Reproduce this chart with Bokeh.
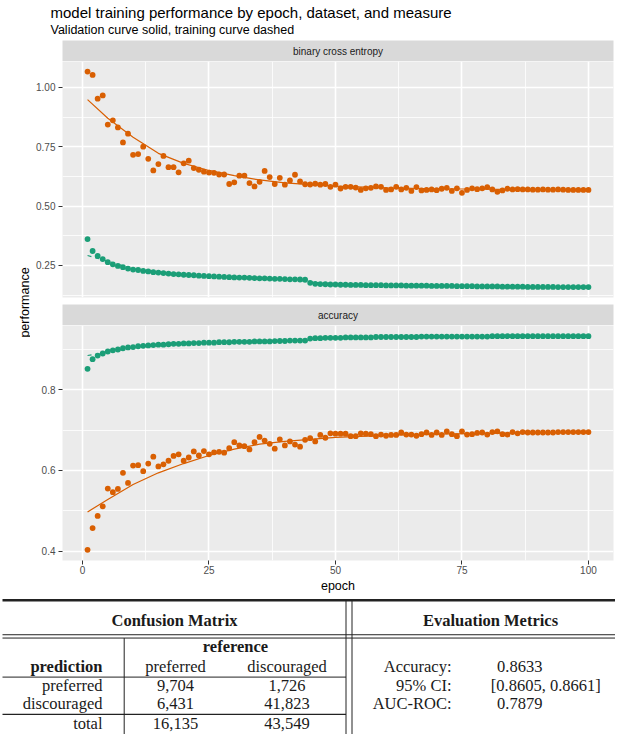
import math
from bokeh.plotting import figure
from bokeh.layouts import column, row
from bokeh.models import Range1d, FixedTicker, NumeralTickFormatter
from bokeh.embed import file_html
from bokeh.resources import INLINE
from bokeh.core.properties import value

# ---------------- data ----------------
epochs = list(range(1, 101))

val_loss = [1.066, 1.052, 0.952, 0.966, 0.843, 0.861, 0.831, 0.768, 0.805, 0.716,
            0.719, 0.750, 0.699, 0.650, 0.677, 0.711, 0.664, 0.664, 0.642, 0.680,
            0.691, 0.660, 0.653, 0.645, 0.641, 0.640, 0.633, 0.633, 0.593, 0.600,
            0.628, 0.628, 0.597, 0.583, 0.602, 0.648, 0.622, 0.593, 0.619, 0.590,
            0.608, 0.632, 0.604, 0.592, 0.591, 0.594, 0.590, 0.593, 0.581, 0.590,
            0.574, 0.581, 0.581, 0.578, 0.568, 0.575, 0.577, 0.583, 0.581, 0.568,
            0.570, 0.581, 0.570, 0.577, 0.564, 0.580, 0.566, 0.568, 0.570, 0.567,
            0.573, 0.577, 0.564, 0.575, 0.556, 0.568, 0.575, 0.571, 0.575, 0.580,
            0.570, 0.560, 0.566, 0.573, 0.570, 0.571, 0.570, 0.570, 0.569, 0.569,
            0.570, 0.569, 0.569, 0.570, 0.569, 0.568, 0.568, 0.568, 0.568, 0.568]

train_loss = [0.361, 0.311, 0.290, 0.277, 0.264, 0.255, 0.248, 0.243, 0.237, 0.233,
              0.231, 0.227, 0.225, 0.222, 0.220, 0.218, 0.216, 0.214, 0.213, 0.211,
              0.210, 0.209, 0.207, 0.206, 0.205, 0.204, 0.203, 0.202, 0.201, 0.200,
              0.199, 0.199, 0.198, 0.197, 0.196, 0.196, 0.195, 0.194, 0.194, 0.193,
              0.192, 0.192, 0.191, 0.190, 0.177, 0.173, 0.172, 0.171, 0.170, 0.170,
              0.169, 0.169, 0.168, 0.168, 0.168, 0.167, 0.167, 0.167, 0.167, 0.166,
              0.166, 0.166, 0.166, 0.165, 0.165, 0.165, 0.165, 0.165, 0.164, 0.164,
              0.164, 0.164, 0.164, 0.163, 0.163, 0.163, 0.163, 0.162, 0.162, 0.162,
              0.162, 0.162, 0.161, 0.161, 0.161, 0.161, 0.161, 0.160, 0.160, 0.160,
              0.160, 0.160, 0.160, 0.159, 0.159, 0.159, 0.159, 0.159, 0.159, 0.159]

val_acc = [0.403, 0.457, 0.487, 0.511, 0.555, 0.546, 0.554, 0.594, 0.569, 0.612,
           0.613, 0.598, 0.617, 0.634, 0.610, 0.615, 0.624, 0.636, 0.640, 0.624,
           0.632, 0.647, 0.637, 0.648, 0.640, 0.645, 0.646, 0.644, 0.655, 0.670,
           0.662, 0.660, 0.652, 0.670, 0.683, 0.674, 0.666, 0.654, 0.677, 0.662,
           0.672, 0.664, 0.659, 0.676, 0.680, 0.672, 0.688, 0.681, 0.692, 0.691,
           0.691, 0.691, 0.685, 0.685, 0.692, 0.691, 0.690, 0.685, 0.689, 0.686,
           0.688, 0.688, 0.694, 0.689, 0.689, 0.686, 0.690, 0.694, 0.688, 0.694,
           0.688, 0.697, 0.690, 0.685, 0.697, 0.689, 0.690, 0.693, 0.694, 0.689,
           0.695, 0.697, 0.690, 0.689, 0.695, 0.692, 0.695, 0.694, 0.694, 0.694,
           0.694, 0.694, 0.694, 0.695, 0.695, 0.695, 0.695, 0.695, 0.695, 0.695]

train_acc = [0.852, 0.876, 0.885, 0.890, 0.895, 0.898, 0.900, 0.903, 0.905, 0.906,
             0.908, 0.909, 0.910, 0.911, 0.912, 0.912, 0.913, 0.914, 0.914, 0.915,
             0.915, 0.916, 0.916, 0.917, 0.917, 0.917, 0.918, 0.918, 0.918, 0.919,
             0.919, 0.919, 0.919, 0.920, 0.920, 0.920, 0.920, 0.921, 0.921, 0.921,
             0.922, 0.922, 0.922, 0.922, 0.927, 0.928, 0.928, 0.929, 0.929, 0.929,
             0.929, 0.930, 0.930, 0.930, 0.930, 0.930, 0.930, 0.931, 0.931, 0.931,
             0.931, 0.931, 0.931, 0.931, 0.931, 0.931, 0.932, 0.932, 0.932, 0.932,
             0.932, 0.932, 0.932, 0.932, 0.932, 0.932, 0.932, 0.932, 0.932, 0.932,
             0.933, 0.933, 0.933, 0.933, 0.933, 0.933, 0.933, 0.933, 0.933, 0.933,
             0.933, 0.933, 0.933, 0.933, 0.933, 0.933, 0.933, 0.933, 0.933, 0.933]

fit_epochs = [1, 5, 10, 15, 20, 25, 30, 35, 40, 45, 50, 60, 70, 80, 90, 100]
val_loss_fit = [0.948, 0.870, 0.790, 0.722, 0.680, 0.650, 0.628, 0.610, 0.598, 0.590,
                0.584, 0.577, 0.573, 0.571, 0.569, 0.568]
train_loss_fit = [0.292, 0.268, 0.236, 0.221, 0.212, 0.205, 0.200, 0.196, 0.193, 0.182,
                  0.170, 0.167, 0.165, 0.163, 0.161, 0.159]
val_acc_fit = [0.497, 0.528, 0.565, 0.594, 0.617, 0.637, 0.653, 0.665, 0.672, 0.677,
               0.682, 0.687, 0.690, 0.692, 0.693, 0.694]
train_acc_fit = [0.885, 0.893, 0.905, 0.911, 0.915, 0.917, 0.918, 0.920, 0.921, 0.925,
                 0.929, 0.930, 0.931, 0.932, 0.933, 0.933]

x_ticks = [0, 25, 50, 75, 100]
loss_ticks = [0.25, 0.50, 0.75, 1.00]
acc_ticks = [0.4, 0.6, 0.8]

title_text = "model training performance by epoch, dataset, and measure"
subtitle_text = "Validation curve solid, training curve dashed"
facet_labels = ["binary cross entropy", "accuracy"]

cm_header = "Confusion Matrix"
em_header = "Evaluation Metrics"
cm_classes = ["preferred", "discouraged"]
cm_values = [[9704, 1726], [6431, 41823]]
metric_names = ["Accuracy:", "95% CI:", "AUC-ROC:"]
metric_values = ["0.8633", "[0.8605, 0.8661]", "0.7879"]

# ---------------- style ----------------
ORANGE = "#D95F02"
GREEN = "#1B9E77"
SANS = "Liberation Sans"
SERIF = "Liberation Serif"
PANEL_BG = "#EBEBEB"
STRIP_BG = "#D9D9D9"

W = 615
H = 734
HEAD_H = 40
LAB_W = 30
PW = W - LAB_W
BL = 32
BR = 2
STRIP_H = 21
FRAME_H = 236
PT_SIZE = 5.8


def canvas(w, h):
    p = figure(width=w, height=h, x_range=Range1d(0, w), y_range=Range1d(h, 0),
               output_backend="svg", toolbar_location=None, min_border=0,
               x_axis_location=None, y_axis_location=None,
               outline_line_color=None, border_fill_color="white",
               background_fill_color="white")
    p.grid.grid_line_color = None
    return p


# header
header = canvas(W, HEAD_H)
header.text(x=[50], y=[11.5], text=[title_text], text_font=value(SANS),
            text_font_size="15px", text_baseline="alphabetic", text_align="left",
            text_color="black")
header.text(x=[50], y=[29.5], text=[subtitle_text], text_font=value(SANS),
            text_font_size="12.5px", text_baseline="alphabetic", text_align="left",
            text_color="black")


def strip(label):
    s = figure(width=PW, height=STRIP_H, x_range=Range1d(0, 1), y_range=Range1d(0, 1),
               output_backend="svg", toolbar_location=None,
               min_border_left=BL, min_border_right=BR, min_border_top=0, min_border_bottom=0,
               x_axis_location=None, y_axis_location=None, outline_line_color=None,
               background_fill_color=STRIP_BG, border_fill_color="white")
    s.grid.grid_line_color = None
    s.text(x=[0.5], y=[0.5], text=[label], text_font=value(SANS), text_font_size="10px",
           text_align="center", text_baseline="middle", text_color="#1A1A1A")
    return s


def panel(yr, yticks, fmt, bottom, show_x):
    p = figure(width=PW, height=FRAME_H + bottom, x_range=Range1d(-3.95, 104.95),
               y_range=Range1d(*yr), output_backend="svg", toolbar_location=None,
               x_axis_location="below" if show_x else None,
               min_border_left=BL, min_border_right=BR, min_border_top=0,
               min_border_bottom=bottom, background_fill_color=PANEL_BG,
               border_fill_color="white", outline_line_color=None)
    step = yticks[1] - yticks[0]
    yminor = [t - step / 2 for t in yticks] + [yticks[-1] + step / 2]
    xminor = [t - 12.5 for t in x_ticks] + [x_ticks[-1] + 12.5]
    xt = FixedTicker(ticks=x_ticks, minor_ticks=xminor)
    yt = FixedTicker(ticks=yticks, minor_ticks=yminor)
    p.xaxis.ticker = xt
    p.yaxis.ticker = yt
    p.xgrid.ticker = xt
    p.ygrid.ticker = yt
    p.grid.grid_line_color = "white"
    p.grid.grid_line_width = 1.6
    p.grid.minor_grid_line_color = "white"
    p.grid.minor_grid_line_width = 0.8
    p.yaxis.formatter = NumeralTickFormatter(format=fmt)
    for ax in [p.xaxis, p.yaxis]:
        ax.axis_line_color = None
        ax.minor_tick_line_color = None
        ax.major_tick_in = 0
        ax.major_tick_out = 4
        ax.major_tick_line_color = "#333333"
        ax.major_tick_line_width = 1
        ax.major_label_text_font = SANS
        ax.major_label_text_font_size = "10px"
        ax.major_label_text_color = "#4D4D4D"
    p.yaxis.major_label_standoff = 3
    if show_x:
        p.xaxis.major_label_standoff = 1
        p.xaxis.axis_label = "epoch"
        p.xaxis.axis_label_text_font = SANS
        p.xaxis.axis_label_text_font_size = "12.5px"
        p.xaxis.axis_label_text_font_style = "normal"
        p.xaxis.axis_label_text_color = "black"
        p.xaxis.axis_label_standoff = 2
    return p


p1 = panel((0.1153, 1.1086), loss_ticks, "0.00", 7, False)
p1.line(fit_epochs, train_loss_fit, line_color=GREEN, line_width=1.1, line_dash="4 4")
p1.line(fit_epochs, val_loss_fit, line_color=ORANGE, line_width=1.2)
p1.scatter(epochs, train_loss, size=PT_SIZE, fill_color=GREEN, line_color=None)
p1.scatter(epochs, val_loss, size=PT_SIZE, fill_color=ORANGE, line_color=None)

p2 = panel((0.3765, 0.9595), acc_ticks, "0.0", 34, True)
p2.line(fit_epochs, train_acc_fit, line_color=GREEN, line_width=1.1, line_dash="4 4")
p2.line(fit_epochs, val_acc_fit, line_color=ORANGE, line_width=1.2)
p2.scatter(epochs, train_acc, size=PT_SIZE, fill_color=GREEN, line_color=None)
p2.scatter(epochs, val_acc, size=PT_SIZE, fill_color=ORANGE, line_color=None)

s1 = strip(facet_labels[0])
s2 = strip(facet_labels[1])

plot_h = STRIP_H * 2 + (FRAME_H + 7) + (FRAME_H + 34)
ylab = figure(width=LAB_W, height=plot_h, x_range=Range1d(0, LAB_W), y_range=Range1d(0, plot_h),
              output_backend="svg", toolbar_location=None, min_border=0,
              x_axis_location=None, y_axis_location=None, outline_line_color=None,
              border_fill_color="white", background_fill_color="white")
ylab.grid.grid_line_color = None
ylab.text(x=[24], y=[plot_h - 262], text=["performance"], angle=math.pi / 2,
          text_font=value(SANS), text_font_size="12.5px", text_align="center",
          text_baseline="middle", text_color="black")

# ---------------- table ----------------
TH = H - HEAD_H - plot_h
tab = canvas(W, TH)
OX, OY = 9, 601
KY = TH / 147.0


def L(x):
    return x - OX


def T(y):
    return (y - OY) * KY


x_left, x_right = L(11), W
x_dbl1, x_dbl2 = L(354.5), L(360.5)
x_col = L(132.7)
seg_x0 = [x_left, x_left, x_left, x_left, x_left, x_col, x_dbl1, x_dbl2]
seg_x1 = [x_right, x_right, x_right, x_dbl1, x_dbl1, x_col, x_dbl1, x_dbl2]
seg_y0 = [T(606), T(642.5), T(646), T(687.3), T(726.7), T(646), T(606), T(606)]
seg_y1 = [T(606), T(642.5), T(646), T(687.3), T(726.7), TH, TH, TH]
seg_w = [2.6, 1, 1, 1, 1.4, 1, 1, 1]
tab.segment(x0=seg_x0, y0=seg_y0, x1=seg_x1, y1=seg_y1, line_color="#222222",
            line_width=seg_w)


def ttext(xs, ys, texts, align, bold=False):
    tab.text(x=xs, y=ys, text=texts, text_font=value(SERIF), text_font_size="16.5px",
             text_font_style="bold" if bold else "normal", text_align=align,
             text_baseline="middle", text_color="#1A1A1A")


col_x = [L(184), L(295.5)]
row_y = [T(696.7), T(715.5)]
total_y = T(736.5)
ttext([L(183), L(499)], [T(627), T(627)], [cm_header, em_header], "center", True)
ttext([L(244)], [T(655)], ["reference"], "center", True)
ttext([L(111)], [T(676)], ["prediction"], "right", True)
ttext(col_x, [T(676)] * 2, cm_classes, "center")
ttext([L(111)] * 2, row_y, cm_classes, "right")
ttext([L(111)], [total_y], ["total"], "right")
cell_x, cell_y, cell_t = [], [], []
for i in range(2):
    for j in range(2):
        cell_x.append(col_x[j])
        cell_y.append(row_y[i])
        cell_t.append(f"{cm_values[i][j]:,}")
ttext(cell_x, cell_y, cell_t, "center")
totals = [f"{sum(r[j] for r in cm_values):,}" for j in range(2)]
ttext(col_x, [total_y] * 2, totals, "center")

met_y = [T(676), T(696.7), T(715.5)]
ttext([L(460)] * 3, met_y, metric_names, "right")
met_x = [L(499.3) if v.startswith("[") else L(505.5) for v in metric_values]
ttext(met_x, met_y, metric_values, "left")

layout = column(header, row(ylab, column(s1, p1, s2, p2)), tab)
open("out.html", "w").write(file_html(layout, INLINE))
